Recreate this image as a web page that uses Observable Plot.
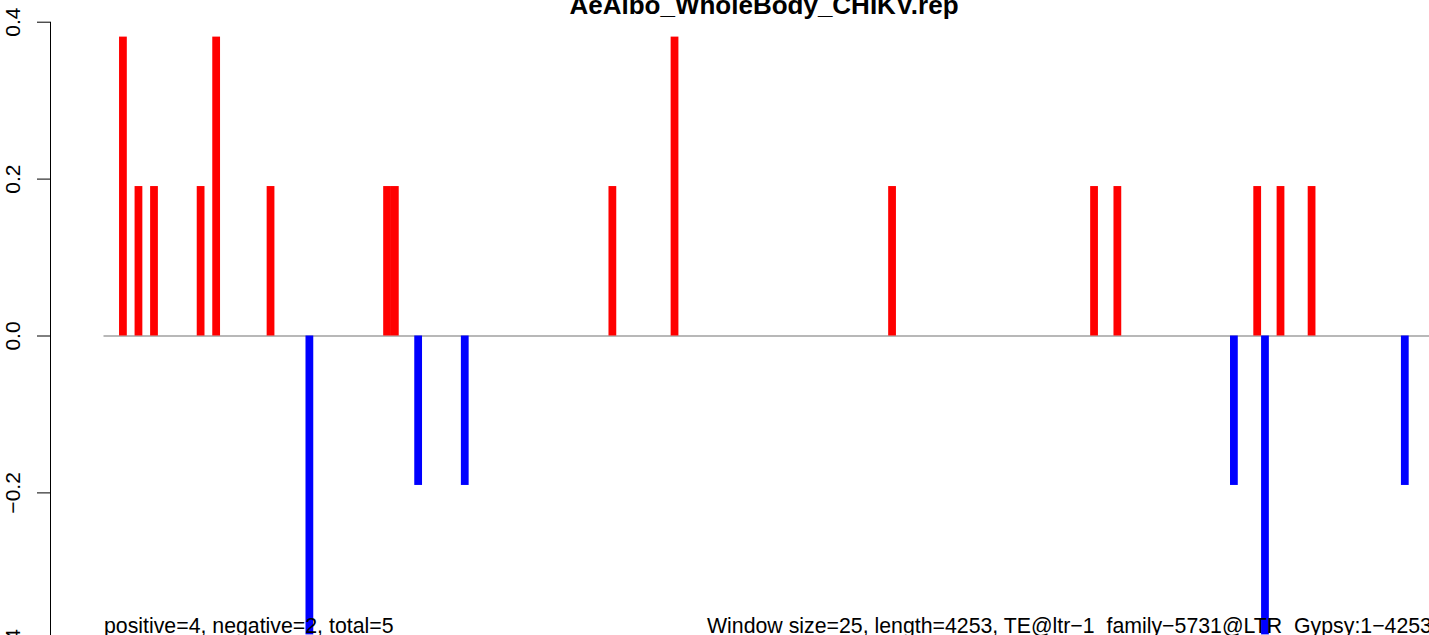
<!DOCTYPE html>
<html><head><meta charset="utf-8">
<script src="https://cdn.jsdelivr.net/npm/d3@7"></script>
<script src="https://cdn.jsdelivr.net/npm/@observablehq/plot@0.6"></script>
<style>
html,body{margin:0;padding:0;overflow:hidden;background:#fff;width:1429px;height:635px}
#wrap{position:relative;width:1429px;height:635px;overflow:hidden;background:#fff}
#chart{position:absolute;left:0;top:0}
#ann{position:absolute;left:0;top:0;font-family:"Liberation Sans",Arial,Helvetica,sans-serif}
</style></head><body>
<div id="wrap"><div id="chart"></div>
<svg id="ann" width="1429" height="635"></svg></div>
<script>
const title = "AeAlbo_WholeBody_CHIKV.rep";
const captionLeft = "positive=4, negative=2, total=5";
const captionRight = "Window size=25, length=4253, TE@ltr\u22121_family\u22125731@LTR_Gypsy:1\u22124253";
const nWindows = 171; // 4253 / 25 windows
const posWindows = [2, 4, 6, 12, 14, 21, 36, 37, 65, 73, 101, 127, 130, 148, 151, 155];
const posValues  = [0.381, 0.1905, 0.1905, 0.1905, 0.381, 0.1905, 0.1905, 0.1905, 0.1905, 0.381, 0.1905, 0.1905, 0.1905, 0.1905, 0.1905, 0.1905];
const negWindows = [26, 40, 46, 145, 149, 167];
const negValues  = [-0.381, -0.1905, -0.1905, -0.1905, -0.381, -0.1905];
const yTicks = [-0.4, -0.2, 0, 0.2, 0.4];

const bars = posWindows.map((w, i) => ({w, v: posValues[i], c: "#ff0000"}))
  .concat(negWindows.map((w, i) => ({w, v: negValues[i], c: "#0000ff"})));

const font = '"Liberation Sans", Arial, Helvetica, sans-serif';
const chart = Plot.plot({
  width: 1429,
  height: 660,
  marginLeft: 50,
  marginRight: 0,
  marginTop: 21.7,
  marginBottom: 10.7,
  style: {fontFamily: font, fontSize: "21px", color: "#000", background: "transparent", overflow: "visible"},
  x: {domain: [0, nWindows], range: [103.5, 1432], axis: null},
  y: {domain: [-0.4, 0.4], axis: null},
  marks: [
    Plot.ruleY([0], {x1: 0, x2: nWindows, stroke: "#a0a0a0", strokeWidth: 1.5}),
    Plot.rect(bars, {x1: d => d.w, x2: d => d.w + 1, y1: 0, y2: d => d.v, fill: d => d.c}),
    Plot.frame({anchor: "left", stroke: "#000", strokeWidth: 1}),
    Plot.axisY({ticks: yTicks, anchor: "left", tickSize: 13, tickPadding: 17.5, tickRotate: -90,
      tickFormat: d => d.toFixed(1).replace("-", "\u2212"), label: null, fontSize: 21, stroke: "#000"})
  ]
});
document.getElementById("chart").appendChild(chart);

const ann = d3.select("#ann");
ann.append("text").attr("x", 764).attr("y", 13.5).attr("text-anchor", "middle")
  .attr("font-weight", "bold").attr("font-size", 26).attr("fill", "#000").text(title);
ann.append("text").attr("x", 104).attr("y", 633).attr("font-size", 21.3).attr("fill", "#000").text(captionLeft);
ann.append("text").attr("x", 707).attr("y", 633).attr("font-size", 21.3).attr("fill", "#000").text(captionRight);
</script>
</body></html>
